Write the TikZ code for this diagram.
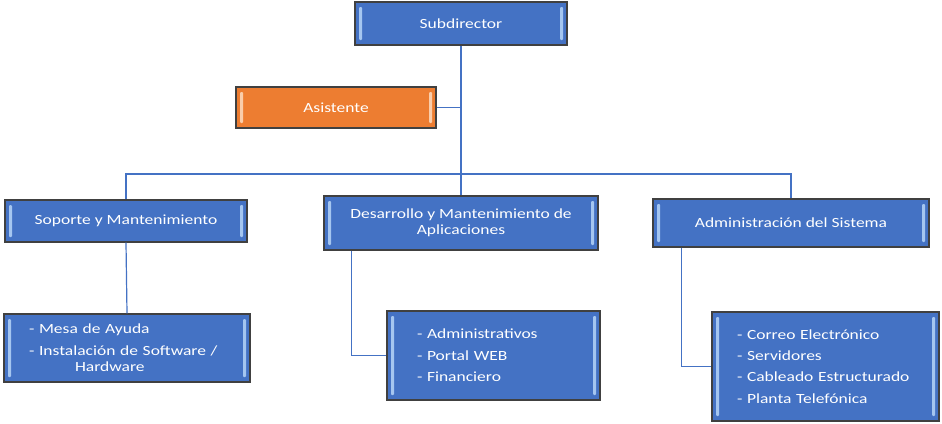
\documentclass[tikz,border=0pt]{standalone}
\usepackage{fontspec}
\setmainfont{Carlito}[FakeStretch=1.25]
\definecolor{boxblue}{RGB}{68,114,196}
\definecolor{boxorange}{RGB}{237,125,49}
\definecolor{boxline}{RGB}{64,64,64}
\definecolor{barblue}{RGB}{165,198,240}
\definecolor{barorange}{RGB}{250,205,170}
\definecolor{linkblue}{RGB}{68,114,196}
\tikzset{
  bars/.style={path picture={
    \fill[#1,rounded corners=1pt] ([shift={(4pt,-5pt)}]path picture bounding box.north west) rectangle ([shift={(7pt,5pt)}]path picture bounding box.south west);
    \fill[#1,rounded corners=1pt] ([shift={(-7pt,-5pt)}]path picture bounding box.north east) rectangle ([shift={(-4pt,5pt)}]path picture bounding box.south east);
  }},
  box/.style={draw=boxline, line width=1.2pt, fill=boxblue, text=white,
    font=\fontsize{14}{16}\selectfont, inner sep=0pt, align=center, bars=barblue},
  orangebox/.style={box, fill=boxorange, bars=barorange},
  listbox/.style={box, align=left},
  link/.style={draw=linkblue, line width=1.2pt},
}
\begin{document}
\begin{tikzpicture}[x=1pt,y=-1pt]
\useasboundingbox (0,0) rectangle (942,423);
\node[box, minimum width=212pt, minimum height=43pt] (sub) at (461,23.5) {Subdirector};
\node[orangebox, minimum width=200pt, minimum height=41pt] (asi) at (336,107.5) {Asistente};
\node[box, minimum width=242pt, minimum height=42pt] (sop) at (126,221) {Soporte y Mantenimiento};
\node[box, minimum width=274pt, minimum height=54pt] (des) at (461,223) {Desarrollo y Mantenimiento de\\Aplicaciones};
\node[box, minimum width=276pt, minimum height=48pt] (adm) at (791,223) {Administración del Sistema};
\node[listbox, text width=196pt, inner xsep=25pt, minimum height=68pt] (sopc) at (127,348)
  {- Mesa de Ayuda\\[6pt]- Instalación de Software /\\\hspace*{46pt}Hardware};
\node[listbox, text width=153pt, inner xsep=30pt, minimum height=89pt, font=\fontsize{14}{21.5}\selectfont] (desc) at (493.5,355.5)
  {- Administrativos\\- Portal WEB\\- Financiero};
\node[listbox, text width=177pt, inner xsep=25pt, minimum height=109pt, font=\fontsize{14}{21.3}\selectfont] (admc) at (825.5,366.5)
  {- Correo Electrónico\\- Servidores\\- Cableado Estructurado\\- Planta Telefónica};
\coordinate (bus) at (461,174);
\begin{scope}[on background layer/.try]
\end{scope}
\draw[link] (sub.south) -- (des.north);
\draw[link] (asi.east) -- (asi.east -| sub.south);
\draw[link] (sop.north) |- (bus) -| (adm.north);
\draw[link] (sop.south) -- (sopc.north);
\draw[link] ([xshift=28pt]des.south west) |- (desc.west);
\draw[link] ([xshift=29pt]adm.south west) |- (admc.west);
\end{tikzpicture}
\end{document}
